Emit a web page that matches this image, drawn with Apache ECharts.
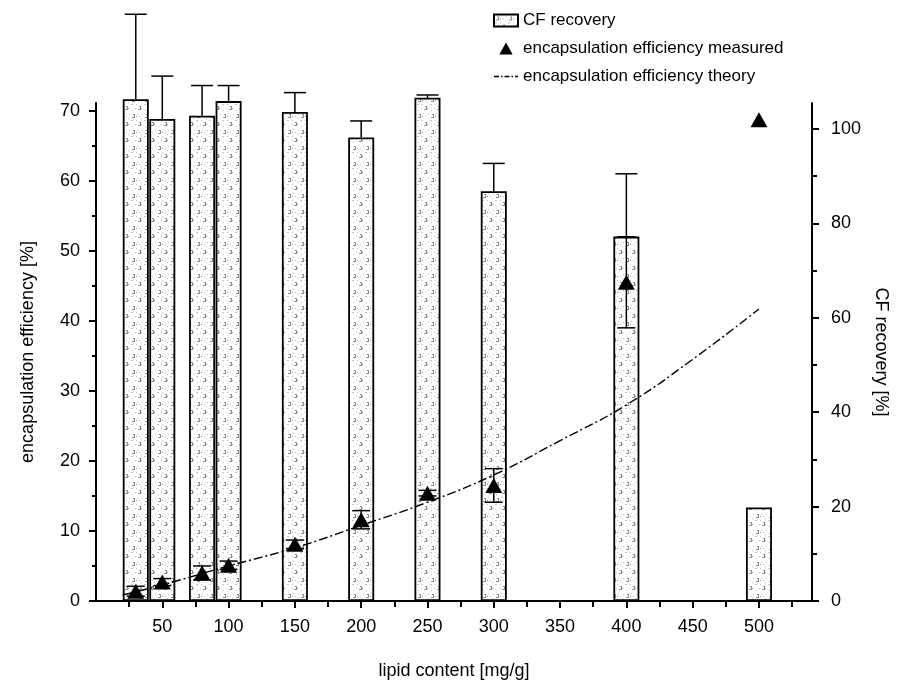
<!DOCTYPE html>
<html>
<head>
<meta charset="utf-8">
<script src="https://cdn.jsdelivr.net/npm/echarts@6/dist/echarts.min.js"></script>
<style>
  html, body { margin: 0; padding: 0; background: #fff; }
  #chart { width: 899px; height: 685px; }
</style>
</head>
<body>
<div id="chart"></div>
<script>
/**
 * Chart data
 */
const lipidContent = [30, 50, 80, 100, 150, 200, 250, 300, 400, 500];
const cfRecovery = [106.3, 102.1, 102.8, 105.9, 103.6, 98.2, 106.6, 86.8, 77.2, 19.8];
const cfRecoveryError = [18.0, 9.1, 6.4, 3.3, 4.1, 3.5, 0.6, 5.9, 13.3, 0];
const eeMeasured = [1.4, 2.7, 4.0, 5.1, 8.1, 11.6, 15.4, 16.5, 45.5, 68.7];
const eeMeasuredError = [0.7, 0.5, 1.0, 0.6, 0.6, 1.3, 0.4, 2.4, 6.5, 0];
const theoryLipid = [20, 50, 100, 150, 200, 250, 300, 350, 400, 450, 500];
const eeTheory = [0.85, 2.3, 5.0, 7.6, 10.8, 14.1, 18.0, 22.9, 28.0, 34.5, 41.7];

const xTicks = [50, 100, 150, 200, 250, 300, 350, 400, 450, 500];
const leftTicks = [0, 10, 20, 30, 40, 50, 60, 70];
const rightTicks = [0, 20, 40, 60, 80, 100];

const FONT = 'Liberation Sans, Arial, sans-serif';

/**
 * Speckled fill used for the bars (grey specks on white)
 */
function makeBarPattern() {
    let c = document.createElement('canvas');
    c.width = 13;
    c.height = 16;
    let ctx = c.getContext('2d');
    ctx.fillStyle = '#ffffff';
    ctx.fillRect(0, 0, c.width, c.height);
    ctx.fillStyle = '#8c8c8c';
    let dark = [[3, 2, 2, 1], [4, 3, 1, 2], [6, 4, 1, 1], [2, 5, 3, 1],
                [9, 10, 2, 1], [10, 11, 1, 2], [8, 13, 3, 1], [11, 12, 1, 1]];
    dark.forEach(function (m) { ctx.fillRect(m[0], m[1], m[2], m[3]); });
    ctx.fillStyle = '#c4c4c4';
    let light = [[7, 1, 1, 1], [1, 8, 2, 1], [11, 6, 1, 1], [5, 12, 1, 1], [2, 14, 1, 1],
                 [12, 2, 1, 1], [6, 8, 1, 1], [9, 4, 1, 1]];
    light.forEach(function (m) { ctx.fillRect(m[0], m[1], m[2], m[3]); });
    return c;
}

let barPattern = { image: makeBarPattern(), repeat: 'repeat' };

let chart = echarts.init(document.getElementById('chart'), null, { renderer: 'canvas' });

/**
 * Error bar renderer; upOnly draws just the upper whisker
 */
function errorBarRenderer(values, errors, capWidth, upOnly) {
    return function (params, api) {
        let i = params.dataIndex;
        let x = lipidContent[i];
        let v = values[i];
        let e = errors[i];
        if (!e) {
            return null;
        }
        let top = api.coord([x, v + e]);
        let bottom = api.coord([x, upOnly ? v : v - e]);
        let style = { stroke: '#000', lineWidth: 1.5 };
        let children = [
            { type: 'line', shape: { x1: top[0], y1: top[1], x2: bottom[0], y2: bottom[1] }, style: style },
            { type: 'line', shape: { x1: top[0] - capWidth / 2, y1: top[1], x2: top[0] + capWidth / 2, y2: top[1] }, style: style }
        ];
        if (!upOnly) {
            children.push({
                type: 'line',
                shape: { x1: bottom[0] - capWidth / 2, y1: bottom[1], x2: bottom[0] + capWidth / 2, y2: bottom[1] },
                style: style
            });
        }
        return { type: 'group', children: children };
    };
}

let option = {
    backgroundColor: '#ffffff',
    animation: false,
    textStyle: { fontFamily: FONT, color: '#000' },
    legend: {
        orient: 'vertical',
        left: 488,
        top: 7,
        itemWidth: 24,
        itemHeight: 12,
        itemGap: 11,
        symbolKeepAspect: true,
        textStyle: { fontFamily: FONT, fontSize: 17, color: '#000' },
        data: [
            { name: 'CF recovery', icon: 'rect' },
            { name: 'encapsulation efficiency measured', icon: 'path://M0,9L5,0L10,9Z' },
            {
                name: 'encapsulation efficiency theory',
                itemStyle: { opacity: 0 },
                lineStyle: { type: [5, 2, 1.5, 2], width: 1.3, color: '#000' }
            }
        ]
    },
    grid: { left: 96, right: 87, top: 103, bottom: 82 },
    xAxis: {
        type: 'value',
        min: 0,
        max: 540,
        interval: 50,
        name: 'lipid content [mg/g]',
        nameLocation: 'middle',
        nameGap: 61,
        nameTextStyle: { fontFamily: FONT, fontSize: 18, color: '#000' },
        axisLine: { lineStyle: { color: '#000', width: 2 } },
        axisTick: { show: true, length: 7, inside: false, customValues: xTicks, lineStyle: { color: '#000', width: 2 } },
        minorTick: { show: true, splitNumber: 2, length: 6, lineStyle: { color: '#000', width: 2 } },
        axisLabel: {
            margin: 17,
            fontFamily: FONT,
            fontSize: 18,
            color: '#000',
            customValues: xTicks
        },
        splitLine: { show: false }
    },
    yAxis: [
        {
            type: 'value',
            position: 'left',
            min: 0,
            max: 71.1,
            interval: 10,
            name: 'encapsulation efficiency [%]',
            nameLocation: 'middle',
            nameGap: 59,
            nameTextStyle: { fontFamily: FONT, fontSize: 18, color: '#000' },
            axisLine: { show: true, onZero: false, lineStyle: { color: '#000', width: 2 } },
            axisTick: { show: true, length: 7, customValues: leftTicks, lineStyle: { color: '#000', width: 2 } },
            minorTick: { show: true, splitNumber: 2, length: 4, lineStyle: { color: '#000', width: 2 } },
            axisLabel: {
                margin: 16,
                fontFamily: FONT,
                fontSize: 18,
                color: '#000',
                customValues: leftTicks
            },
            splitLine: { show: false }
        },
        {
            type: 'value',
            position: 'right',
            min: 0,
            max: 105.5,
            interval: 20,
            name: 'CF recovery [%]',
            nameLocation: 'middle',
            nameGap: 58,
            nameRotate: -90,
            nameTextStyle: { fontFamily: FONT, fontSize: 18, color: '#000' },
            axisLine: { show: true, onZero: false, lineStyle: { color: '#000', width: 2 } },
            axisTick: { show: true, length: 7, customValues: rightTicks, lineStyle: { color: '#000', width: 2 } },
            minorTick: { show: true, splitNumber: 2, length: 5, lineStyle: { color: '#000', width: 2 } },
            axisLabel: {
                margin: 19,
                fontFamily: FONT,
                fontSize: 18,
                color: '#000',
                customValues: rightTicks
            },
            splitLine: { show: false }
        }
    ],
    series: [
        {
            name: 'CF recovery',
            type: 'bar',
            yAxisIndex: 1,
            barWidth: 26,
            clip: false,
            z: 2,
            itemStyle: { color: barPattern, borderColor: '#000', borderWidth: 1.8 },
            data: lipidContent.map(function (x, i) { return [x, cfRecovery[i]]; })
        },
        {
            name: 'CF recovery error',
            type: 'custom',
            yAxisIndex: 1,
            clip: false,
            z: 3,
            renderItem: errorBarRenderer(cfRecovery, cfRecoveryError, 22, true),
            data: lipidContent.map(function (x, i) { return [x, cfRecovery[i] + cfRecoveryError[i]]; })
        },
        {
            name: 'encapsulation efficiency error',
            type: 'custom',
            yAxisIndex: 0,
            clip: false,
            z: 4,
            renderItem: errorBarRenderer(eeMeasured, eeMeasuredError, 18, false),
            data: lipidContent.map(function (x, i) { return [x, eeMeasured[i]]; })
        },
        {
            name: 'encapsulation efficiency measured',
            type: 'scatter',
            yAxisIndex: 0,
            symbol: 'triangle',
            symbolSize: [17, 15],
            z: 5,
            itemStyle: { color: '#000', opacity: 1 },
            data: lipidContent.map(function (x, i) { return [x, eeMeasured[i]]; })
        },
        {
            name: 'encapsulation efficiency theory',
            type: 'line',
            yAxisIndex: 0,
            smooth: true,
            symbol: 'none',
            z: 6,
            lineStyle: { color: '#000', width: 1.4, type: [9, 3, 2, 3] },
            itemStyle: { color: 'rgba(0,0,0,0)' },
            data: theoryLipid.map(function (x, i) { return [x, eeTheory[i]]; })
        }
    ]
};

chart.setOption(option);
</script>
</body>
</html>
